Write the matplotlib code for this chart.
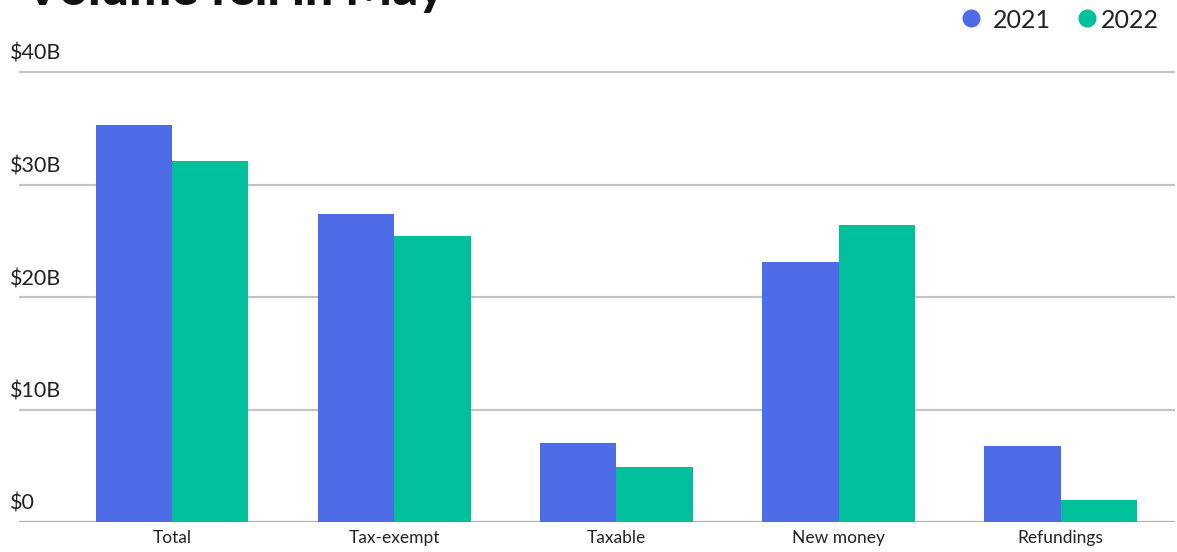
import matplotlib
matplotlib.use("Agg")
import matplotlib.pyplot as plt
import numpy as np
from matplotlib.lines import Line2D
from matplotlib.transforms import blended_transform_factory, offset_copy

categories = ["Total", "Tax-exempt", "Taxable", "New money", "Refundings"]
vol_2021 = [35.3, 27.4, 7.0, 23.1, 6.75]
vol_2022 = [32.1, 25.4, 4.9, 26.4, 1.95]
series_names = ["2021", "2022"]
ytick_vals = [0, 10, 20, 30, 40]
ytick_labels = ["$0", "$10B", "$20B", "$30B", "$40B"]
title = "Volume fell in May"

BLUE = "#4f6ce8"
TEAL = "#00bf9b"
TXT = "#222222"
W, H = 1177, 552
FONT = ["Lato", "DejaVu Sans"]
plt.rcParams["font.family"] = FONT

fig = plt.figure(figsize=(W / 100, H / 100), dpi=100)
ax_left, ax_right, ax_bottom, ax_top = 19, 1175, 522, 70
ax = fig.add_axes([ax_left / W, 1 - ax_bottom / H, (ax_right - ax_left) / W, (ax_bottom - ax_top) / H])

x = np.arange(len(categories))
bw = 0.344
ax.bar(x - bw / 2, vol_2021, width=bw, color=BLUE, zorder=3)
ax.bar(x + bw / 2, vol_2022, width=bw, color=TEAL, zorder=3)

ppu = (522 - 72) / 40.0
ax.set_ylim(0, 40 + 2 / ppu)
span = 222.2
ax.set_xlim((ax_left - 172) / span, (ax_right - 172) / span)

for v in ytick_vals:
    ax.axhline(v, color="#c4c4c4" if v else "#b0b0b0", lw=1.6, zorder=1)

for s in ax.spines.values():
    s.set_visible(False)
ax.set_yticks([])
ax.set_xticks(x)
ax.set_xticklabels(categories, fontsize=12.5, color=TXT)
ax.tick_params(axis="x", length=0, pad=6)

tr = blended_transform_factory(ax.transAxes, ax.transData)
tr = offset_copy(tr, fig=fig, x=0, y=12, units="dots")
xf = (10 - ax_left) / (ax_right - ax_left)
for v, lab in zip(ytick_vals, ytick_labels):
    ax.text(xf, v, lab, transform=tr, ha="left", va="baseline", fontsize=15.5, color=TXT)

# Title (partially cut at top)
fig.text(24 / W, 1 - 5 / H, title, ha="left", va="baseline", fontsize=36,
         fontweight="black", color="#111111")

# Legend
for cx, col, tx, name in [(971, BLUE, 993, series_names[0]), (1087, TEAL, 1101, series_names[1])]:
    fig.add_artist(Line2D([cx / W], [1 - 18 / H], marker="o", markersize=12,
                          color=col, linestyle="none", transform=fig.transFigure))
    fig.text(tx / W, 1 - 18 / H, name, ha="left", va="center_baseline", fontsize=18, color=TXT)

fig.savefig("out.png", dpi=100, facecolor="white")
